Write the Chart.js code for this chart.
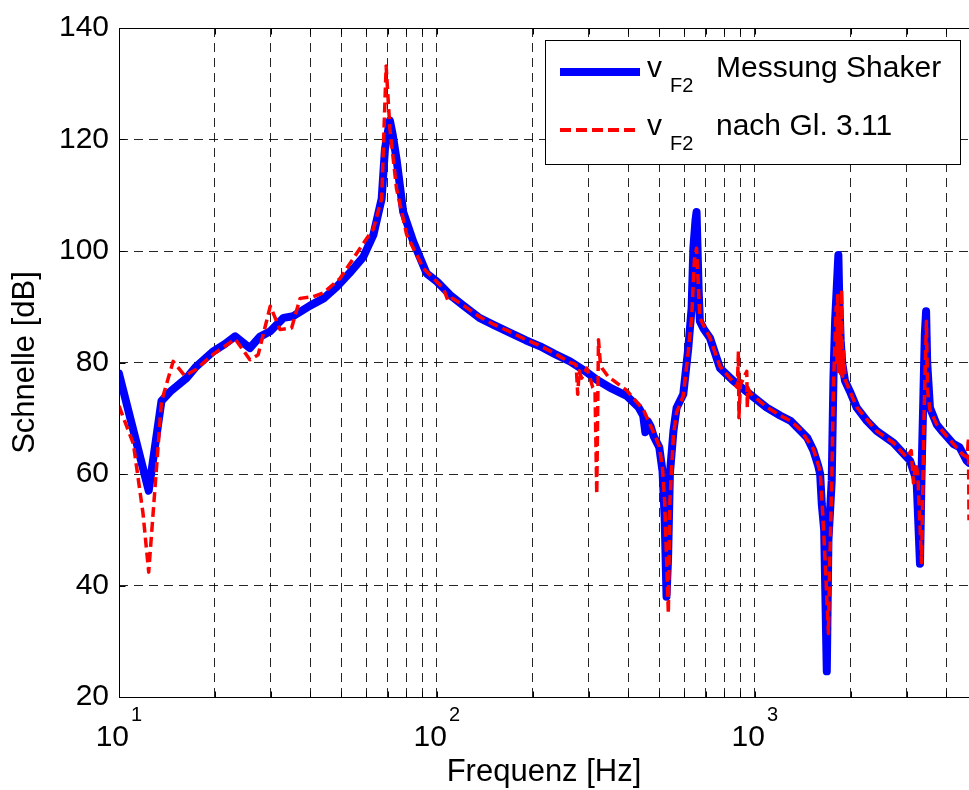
<!DOCTYPE html>
<html>
<head>
<meta charset="utf-8">
<title>Schnelle v_F2</title>
<script src="https://cdn.jsdelivr.net/npm/chart.js@4.4.0/dist/chart.umd.min.js"></script>
<style>
  html, body { margin: 0; padding: 0; background: #fff; overflow: hidden; }
  #wrap { width: 969px; height: 790px; }
</style>
</head>
<body>
<div id="wrap"><canvas id="speedChart" width="969" height="790"></canvas></div>
<script>
// v_F2 Messung Shaker (blue, solid)
const blueFreq = [10, 12.4, 13.6, 14.5, 16.3, 17.5, 19.8, 21.5, 23.2, 25.8,
  27.7, 29.9, 32.9, 35.3, 39.9, 44, 48.4, 53, 58.6, 63.1,
  67, 68.6, 71.1, 72.5, 74.6, 78.3, 84.2, 92.7, 100, 110,
  120, 136, 150, 170, 190, 211, 235, 262, 290, 318,
  355, 395, 430, 445, 452, 460,
  470, 480, 500, 512, 520, 527, 533, 540, 554, 567,
  595, 617, 632, 640, 650, 655, 660, 665, 671, 690,
  722, 776, 855, 965, 1089, 1199, 1296, 1387, 1460, 1527,
  1580, 1603, 1622, 1650, 1682, 1702, 1743, 1765, 1786, 1829,
  1840, 1860, 1880, 1919, 2000, 2089, 2250, 2415, 2724, 3072,
  3223, 3303, 3340, 3386, 3420, 3452, 3480, 3550, 3727, 3900,
  4204, 4400, 4630, 4710];
const blueDb = [78, 57, 73.1, 74.8, 77.2, 79.3, 82.0, 83.3, 84.7, 82.6,
  84.6, 85.6, 88.0, 88.3, 90.2, 91.5, 93.6, 96, 98.9, 102.9,
  109.4, 118.3, 123.4, 121, 116.5, 107, 101.7, 96, 94.5, 92.1,
  90.4, 88.0, 86.8, 85.3, 84.0, 82.9, 81.5, 80.2, 78.6, 76.9,
  75.3, 74.0, 72.0, 70.5, 67.5, 69.5,
  68.5, 66.8, 64.8, 60.5, 52, 38, 45, 60, 67.7, 71.9,
  74.3, 82.6, 89.75, 100.5, 105.5, 107, 100, 93, 87.4, 86,
  84.4, 79.0, 76.7, 74.3, 71.9, 70.5, 69.5, 67.8, 66.5, 64.2,
  61.5, 60.0, 54.6, 50, 24.6, 48.1, 58.8, 77.25, 87.4, 99.3,
  92, 84, 80, 76.7, 74.5, 71.9, 69.5, 67.7, 65.6, 62.4,
  58.8, 43.9, 60, 74.3, 85, 89.2, 80, 71.9, 68.9, 67.5,
  65.4, 64.8, 62.4, 62];

// v_F2 nach Gl. 3.11 (red, dashed)
const redFreq = [10, 11.1, 11.9, 12.4, 13.6, 14.8, 16.1, 17.5, 19.8, 23.2,
  25.8, 27.4, 29.9, 32.1, 34.9, 37.1, 40.8, 44, 49.6, 57.3,
  63.1, 67, 69.2, 71.1, 74.6, 80.3, 90.6, 104.7, 108.4, 112,
  120, 136, 150, 170, 190, 211, 235, 262, 270, 274, 277, 280, 285, 296,
  303, 309, 314, 318, 322, 326, 330, 345, 395, 446,
  480, 500, 512, 520, 534, 540, 554, 567, 595, 617,
  632, 645, 655, 662, 671, 722, 776, 855, 880, 887,
  890, 900, 942, 946, 950, 965, 1089, 1199, 1296, 1387,
  1527, 1603, 1622, 1660, 1702, 1720, 1743, 1765, 1786, 1800,
  1810, 1820, 1830, 1845, 1860, 1873, 1885, 1900, 1919, 2000,
  2089, 2415, 2724, 3000, 3100, 3150, 3200, 3250, 3342, 3400,
  3460, 3490, 3550, 3727, 4204, 4500, 4650, 4690, 4710];
const redDb = [72.2, 65.4, 52.9, 42.4, 73, 80.2, 77.6, 78.8, 81.5, 84.2,
  80.5, 81.4, 90.1, 85.9, 86.2, 91.5, 91.8, 92.5, 95.1, 100.5,
  104.0, 109.4, 133.2, 121.9, 111.2, 102.9, 96.9, 93.3, 91.0, 91.5,
  90.4, 88.2, 86.9, 85.5, 84.1, 83.0, 81.6, 80.0, 79.8, 79.5, 74.3, 78.5, 77.2, 79.0,
  77.2, 75.5, 75.0, 56.4, 84.1, 80.2, 79.0, 77.5, 75.0, 71.5,
  67.5, 65, 61, 55, 35, 55, 67, 71, 74, 82,
  88, 98.5, 100.5, 95, 88, 84.4, 79.3, 76.5, 75.5, 82.0,
  70.1, 76, 78.4, 71.9, 75.5, 74.5, 72, 70.5, 69.5, 68,
  64.5, 60.5, 56, 45, 31.4, 45, 58, 76, 84, 90,
  80, 92, 78, 88, 78, 93, 77.5, 82, 77, 74.5,
  72, 67.7, 65.6, 63, 64.2, 58.4, 62, 60, 44.1, 70,
  87.4, 75, 71.5, 68.9, 65.4, 63.5, 63, 66.5, 51.7];

// axis ticks
const xTicks = [10, 20, 30, 40, 50, 60, 70, 80, 90,
  100, 200, 300, 400, 500, 600, 700, 800, 900,
  1000, 2000, 3000, 4000];
const xLabelValues = [10, 100, 1000];
const yTicks = [20, 40, 60, 80, 100, 120, 140];

const seriesNames = ['Messung Shaker', 'nach Gl. 3.11'];

const FONT = "'Liberation Sans', Arial, Helvetica, sans-serif";
const gridColor = 'rgba(0,0,0,0.85)';

function toPoints(freqs, values) {
  return freqs.map((f, i) => ({ x: f, y: values[i] }));
}

// frame, inner tick marks, 10^n labels and the legend, drawn like matlab does
const matlabAxes = {
  id: 'matlabAxes',
  afterDraw(chart) {
    const { ctx, chartArea: a, scales: { x, y } } = chart;
    const top = Math.round(a.top) + 0.5;
    const left = Math.round(a.left) + 0.5;
    const bottom = Math.round(a.bottom) + 0.5;
    const right = chart.width;

    ctx.save();
    ctx.strokeStyle = '#000';
    ctx.lineWidth = 1;
    ctx.setLineDash([]);
    ctx.beginPath();
    ctx.moveTo(right, top); ctx.lineTo(left, top);
    ctx.lineTo(left, bottom); ctx.lineTo(right, bottom);
    // tick marks inside the box
    xTicks.forEach(v => {
      const px = Math.round(x.getPixelForValue(v)) + 0.5;
      ctx.moveTo(px, bottom); ctx.lineTo(px, bottom - 6);
      ctx.moveTo(px, top); ctx.lineTo(px, top + 6);
    });
    yTicks.forEach(v => {
      const py = Math.round(y.getPixelForValue(v)) + 0.5;
      ctx.moveTo(left, py); ctx.lineTo(left + 6, py);
    });
    ctx.stroke();

    // x tick labels 10^1, 10^2, 10^3
    ctx.fillStyle = '#000';
    ctx.textBaseline = 'alphabetic';
    xLabelValues.forEach(v => {
      const px = x.getPixelForValue(v);
      ctx.font = '30px ' + FONT;
      ctx.textAlign = 'right';
      ctx.fillText('10', px + 10, 746);
      ctx.font = '20px ' + FONT;
      ctx.textAlign = 'left';
      ctx.fillText(String(Math.round(Math.log10(v))), px + 12, 721);
    });

    // legend box
    const lx = 545.5, ly = 40.5, lw = 415, lh = 124;
    ctx.fillStyle = '#fff';
    ctx.fillRect(lx, ly, lw, lh);
    ctx.strokeStyle = '#000';
    ctx.lineWidth = 1;
    ctx.strokeRect(lx, ly, lw, lh);

    const rows = [
      { y: 72, color: '#0000ff', width: 8, dash: [] },
      { y: 130, color: '#ff0000', width: 4, dash: [11, 5] }
    ];
    rows.forEach((r, i) => {
      ctx.strokeStyle = r.color;
      ctx.lineWidth = r.width;
      ctx.setLineDash(r.dash);
      ctx.beginPath();
      ctx.moveTo(560, r.y);
      ctx.lineTo(640, r.y);
      ctx.stroke();
      ctx.setLineDash([]);

      const base = r.y + 5;
      ctx.fillStyle = '#000';
      ctx.textAlign = 'left';
      ctx.font = '30px ' + FONT;
      ctx.fillText('v', 647, base);
      ctx.font = '20px ' + FONT;
      ctx.fillText('F2', 670, base + 15);
      ctx.font = '30px ' + FONT;
      ctx.fillText(seriesNames[i], 716, base);
    });
    ctx.restore();
  }
};

new Chart(document.getElementById('speedChart'), {
  type: 'line',
  data: {
    datasets: [
      {
        label: 'v_F2 ' + seriesNames[0],
        data: toPoints(blueFreq, blueDb),
        borderColor: '#0000ff',
        borderWidth: 8,
        borderCapStyle: 'round',
        borderJoinStyle: 'round',
        pointRadius: 0,
        tension: 0,
        order: 2
      },
      {
        label: 'v_F2 ' + seriesNames[1],
        data: toPoints(redFreq, redDb),
        borderColor: '#ff0000',
        borderWidth: 3.5,
        borderDash: [10, 5],
        borderJoinStyle: 'round',
        pointRadius: 0,
        tension: 0,
        order: 1
      }
    ]
  },
  options: {
    responsive: false,
    animation: false,
    devicePixelRatio: 1,
    layout: { padding: { top: 25, left: 0, right: 0, bottom: 0 } },
    plugins: {
      legend: { display: false },
      tooltip: { enabled: false }
    },
    scales: {
      x: {
        type: 'logarithmic',
        min: 10,
        max: 4710,
        afterBuildTicks: (scale) => {
          scale.ticks = xTicks.map(v => ({ value: v }));
        },
        afterFit: (scale) => { scale.height = 93; },
        ticks: { display: false },
        grid: { color: gridColor, lineWidth: 1, drawTicks: false },
        border: { display: false, dash: [9, 6] },
        title: {
          display: true,
          text: 'Frequenz [Hz]',
          color: '#000',
          font: { family: FONT, size: 31, lineHeight: 1.1 },
          padding: { top: 0, bottom: 0 }
        }
      },
      y: {
        type: 'linear',
        min: 20,
        max: 140,
        afterBuildTicks: (scale) => {
          scale.ticks = yTicks.map(v => ({ value: v }));
        },
        afterFit: (scale) => { scale.width = 119; },
        ticks: {
          color: '#000',
          font: { family: FONT, size: 30 },
          padding: 10
        },
        grid: { color: gridColor, lineWidth: 1, drawTicks: false },
        border: { display: false, dash: [9, 6] },
        title: {
          display: true,
          text: 'Schnelle [dB]',
          color: '#000',
          font: { family: FONT, size: 31 },
          padding: { top: 7, bottom: 0 }
        }
      }
    }
  },
  plugins: [matlabAxes]
});
</script>
</body>
</html>
